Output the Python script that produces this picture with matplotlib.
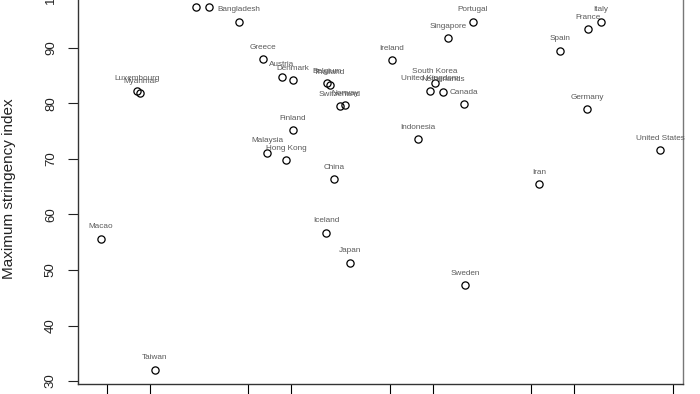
import matplotlib.pyplot as plt

# country labels, x on log scale (top two labels fall outside the crop)
countries = ["India", "Philippines", "Bangladesh", "Greece", "Austria", "Denmark",
             "Belgium", "Thailand", "Switzerland", "Norway", "Luxembourg", "Myanmar",
             "Finland", "Malaysia", "Hong Kong", "China", "Portugal", "Singapore",
             "Ireland", "South Korea", "United Kingdom", "Netherlands", "Canada",
             "Indonesia", "Italy", "France", "Spain", "Germany", "United States",
             "Iran", "Macao", "Taiwan", "Iceland", "Japan", "Sweden"]
x_vals = [21.3, 26.3, 42.9, 63.3, 86.2, 103, 179, 188, 222, 240, 8.15, 8.55,
          103, 67.6, 92, 201, 1931, 1285, 517, 1040, 959, 1185, 1667, 789,
          15500, 12540, 7950, 12330, 40460, 5650, 4.54, 10.9, 177, 261, 1694]
stringency = [97.4, 97.4, 94.7, 88.0, 84.8, 84.2, 83.7, 83.4, 79.5, 79.7, 82.3, 81.9,
              75.2, 71.1, 69.8, 66.4, 94.7, 91.8, 87.8, 83.7, 82.3, 82.1, 79.9, 73.6,
              94.7, 93.4, 89.5, 79.0, 71.6, 65.5, 55.6, 32.0, 56.7, 51.3, 47.3]
x_ticks = [5, 10, 50, 100, 500, 1000, 5000, 10000, 50000]
y_ticks = [30, 40, 50, 60, 70, 80, 90, 100]

plt.rcParams['font.family'] = ['Liberation Sans', 'DejaVu Sans']

fig = plt.figure(figsize=(7, 3.94), dpi=100)
# axes run past the top edge, the reference is cropped there
ax = fig.add_axes([78/700, 10/394, 605/700, 404/394])

ax.plot(x_vals, stringency, 'o', mfc='none', mec='black', ms=5.2, mew=0.9)
for name, xv, yv in zip(countries, x_vals, stringency):
    ax.annotate(name, (xv, yv), xytext=(0, 8.6), textcoords='offset points',
                ha='center', va='center', fontsize=5.9, color='#5a5a5a')

ax.set_xscale('log')
ax.set_xlim(3.12, 58900)
ax.set_ylim(29.46, 102.25)
ax.set_xticks(x_ticks)
ax.set_xticklabels([])
ax.minorticks_off()
ax.set_yticks(y_ticks)
ax.tick_params(axis='y', length=7.2, width=0.8, pad=8, labelsize=9.5, colors='#222222')
ax.tick_params(axis='x', length=7.2, width=0.8)
for lab in ax.get_yticklabels():
    lab.set_rotation(90)
    lab.set_va('center')

for s in ax.spines.values():
    s.set_color('#333333')
    s.set_linewidth(1.0)
ax.spines['right'].set_color('#777777')

ax.set_ylabel('Maximum stringency index', fontsize=11, color='#222222')
ax.yaxis.set_label_coords(-0.102, 0.483)

plt.savefig('out.png', dpi=100)
